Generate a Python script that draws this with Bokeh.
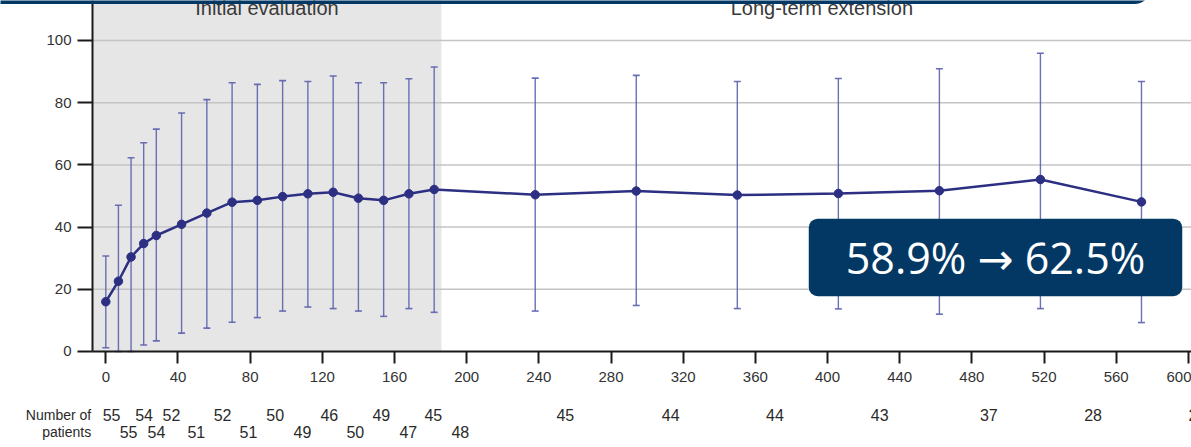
from bokeh.plotting import figure
from bokeh.models import (ColumnDataSource, BoxAnnotation, Label, LabelSet,
                          FixedTicker, Range1d, LinearAxis)
from bokeh.core.properties import value
from bokeh.embed import file_html
from bokeh.resources import INLINE

# Visit schedule (days from baseline)
visit_day = [0, 7, 14, 21, 28, 42, 56, 70, 84, 98, 112, 126, 140, 154, 168, 182,
             238, 294, 350, 406, 462, 518, 574]
# Mean score at each visit and the limits of its error bar (mean ± SD)
mean_score = [16.0, 22.6, 30.4, 34.7, 37.3, 40.9, 44.5, 48.0, 48.6, 49.8, 50.7, 51.2,
              49.3, 48.6, 50.7, 52.1, 50.4, 51.6, 50.3, 50.8, 51.7, 55.3, 48.1]
upper_sd = [30.7, 47.0, 62.3, 67.1, 71.5, 76.7, 81.0, 86.4, 85.9, 87.1, 86.8, 88.6,
            86.4, 86.4, 87.7, 91.5, 87.9, 88.8, 86.8, 87.8, 90.9, 95.9, 86.8]
lower_sd = [1.2, 0.0, 0.0, 2.1, 3.4, 5.9, 7.5, 9.4, 10.9, 13.0, 14.3, 13.8,
            13.0, 11.3, 13.8, 12.6, 13.0, 14.8, 13.8, 13.7, 12.0, 13.8, 9.3]
# Number of patients assessed at each visit
patients = [55, 55, 54, 54, 52, 51, 52, 51, 50, 49, 46, 50, 49, 47, 45, 48,
            45, 44, 44, 43, 37, 28, 24]

x_ticks = list(range(0, 601, 40))
y_ticks = [0, 20, 40, 60, 80, 100]
phase_labels = ["Initial evaluation", "Long-term extension"]
initial_phase_end = 186
callout_text = "58.9% \u2192 62.5%"

# Table layout: horizontal place of each count and its row (two staggered rows)
count_x = [3.2, 12.6, 21.2, 28.1, 36.4, 50.2, 64.7, 79.1, 93.9, 109.0, 123.9, 138.3,
           152.7, 167.7, 181.5, 196.5, 254.7, 313.1, 370.9, 428.9, 489.4, 547.2, 605.0]
ROW_TOP, ROW_BOTTOM = -20.4, -25.9
count_y = [ROW_TOP if (i % 2 == 0 or i >= 16) else ROW_BOTTOM for i in range(len(patients))]

NAVY = "#033864"
LINE = "#2c2f82"
ERR = "#5c60ad"
FONT = "Liberation Sans"
INK = "#2a2a2a"

# The frame covers the whole canvas; axes sit at fixed places inside it
XL, XR = -58.36, 601.73
YB, YT = -30.87, 112.86
AXIS_X = -7.37  # where the vertical axis stands

p = figure(width=1191, height=447, x_range=Range1d(XL, XR), y_range=Range1d(YB, YT),
           output_backend="svg", toolbar_location=None,
           x_axis_location=None, y_axis_location=None,
           min_border_left=0, min_border_right=0, min_border_top=0, min_border_bottom=0)
p.outline_line_color = None
p.background_fill_color = "white"
p.border_fill_color = "white"
p.xgrid.visible = False
p.ygrid.visible = False

# Shaded initial evaluation phase
p.add_layout(BoxAnnotation(left=AXIS_X, right=initial_phase_end, bottom=0,
                           fill_color="#e6e6e6", fill_alpha=1, line_color=None,
                           level="image"))

# Horizontal grid lines at the y ticks, starting at the vertical axis
grid_y = [t for t in y_ticks if t > 0]
p.segment(x0=[AXIS_X] * len(grid_y), y0=grid_y, x1=[XR] * len(grid_y), y1=grid_y,
          line_color="#c4c4c4", line_width=1.5, level="underlay")

xaxis = LinearAxis(fixed_location=0, bounds=(AXIS_X, XR), ticker=FixedTicker(ticks=x_ticks))
yaxis = LinearAxis(fixed_location=AXIS_X, bounds=(0, YT), ticker=FixedTicker(ticks=y_ticks))
for ax in (xaxis, yaxis):
    ax.axis_line_color = "#1a1a1a"
    ax.axis_line_width = 2
    ax.major_tick_line_color = "#1a1a1a"
    ax.major_tick_line_width = 2
    ax.major_tick_in = 0
    ax.minor_tick_line_color = None
    ax.major_label_text_font = FONT
    ax.major_label_text_font_size = "15px"
    ax.major_label_text_color = "#333333"
xaxis.major_tick_out = 12
xaxis.major_label_standoff = 9
yaxis.major_tick_out = 15
yaxis.major_label_standoff = 6
p.add_layout(xaxis, "below")
p.add_layout(yaxis, "left")

src = ColumnDataSource(dict(day=visit_day, mean=mean_score, lo=lower_sd, hi=upper_sd))

# Error bars with caps
p.segment(x0="day", y0="lo", x1="day", y1="hi", source=src, line_color=ERR,
          line_width=1.4, line_alpha=0.9)
p.scatter(x="day", y="hi", source=src, marker="dash", size=7, line_color=ERR,
          line_width=1.6, line_alpha=0.9)
p.scatter(x="day", y="lo", source=src, marker="dash", size=7, line_color=ERR,
          line_width=1.6, line_alpha=0.9)

# Mean course
p.line(x="day", y="mean", source=src, line_color=LINE, line_width=2.5)
p.scatter(x="day", y="mean", source=src, marker="circle", size=8.5,
          fill_color=LINE, line_color=LINE)

# Phase headings
p.add_layout(Label(x=(AXIS_X + initial_phase_end) / 2, y=110.6, text=phase_labels[0],
                   text_align="center", text_baseline="alphabetic", text_font=FONT,
                   text_font_size="20px", text_color="#3a3a3a"))
p.add_layout(Label(x=(initial_phase_end + XR) / 2 + 3, y=110.6, text=phase_labels[1],
                   text_align="center", text_baseline="alphabetic", text_font=FONT,
                   text_font_size="20px", text_color="#3a3a3a"))

# Header band along the top edge
p.add_layout(BoxAnnotation(left=-70, right=579, bottom=111.7, top=125, fill_color=NAVY,
                           fill_alpha=1, line_color=None, border_radius=16))

# Patient counts below the axis
cnt = ColumnDataSource(dict(x=count_x, y=count_y, text=[str(n) for n in patients]))
p.add_layout(LabelSet(x="x", y="y", text="text", source=cnt, text_align="center",
                      text_baseline="middle", text_font=value(FONT),
                      text_font_size=value("16px"), text_color=INK))
p.add_layout(Label(x=-8.1, y=ROW_TOP, text="Number of", text_align="right",
                   text_baseline="middle", text_font=FONT, text_font_size="14px",
                   text_color=INK))
p.add_layout(Label(x=-8.1, y=ROW_BOTTOM, text="patients", text_align="right",
                   text_baseline="middle", text_font=FONT, text_font_size="14px",
                   text_color=INK))

# Highlight callout
box_l, box_r, box_b, box_t = 389.6, 596.6, 17.8, 42.7
p.add_layout(BoxAnnotation(left=box_l, right=box_r, bottom=box_b, top=box_t,
                           fill_color=NAVY, fill_alpha=1, line_color=None, border_radius=9))
p.add_layout(Label(x=(box_l + box_r) / 2, y=(box_b + box_t) / 2, text=callout_text,
                   text_align="center", text_baseline="middle",
                   text_font="Open Sans, DejaVu Sans",
                   text_font_size="43px", text_color="white"))

open("out.html", "w").write(file_html(p, INLINE))
